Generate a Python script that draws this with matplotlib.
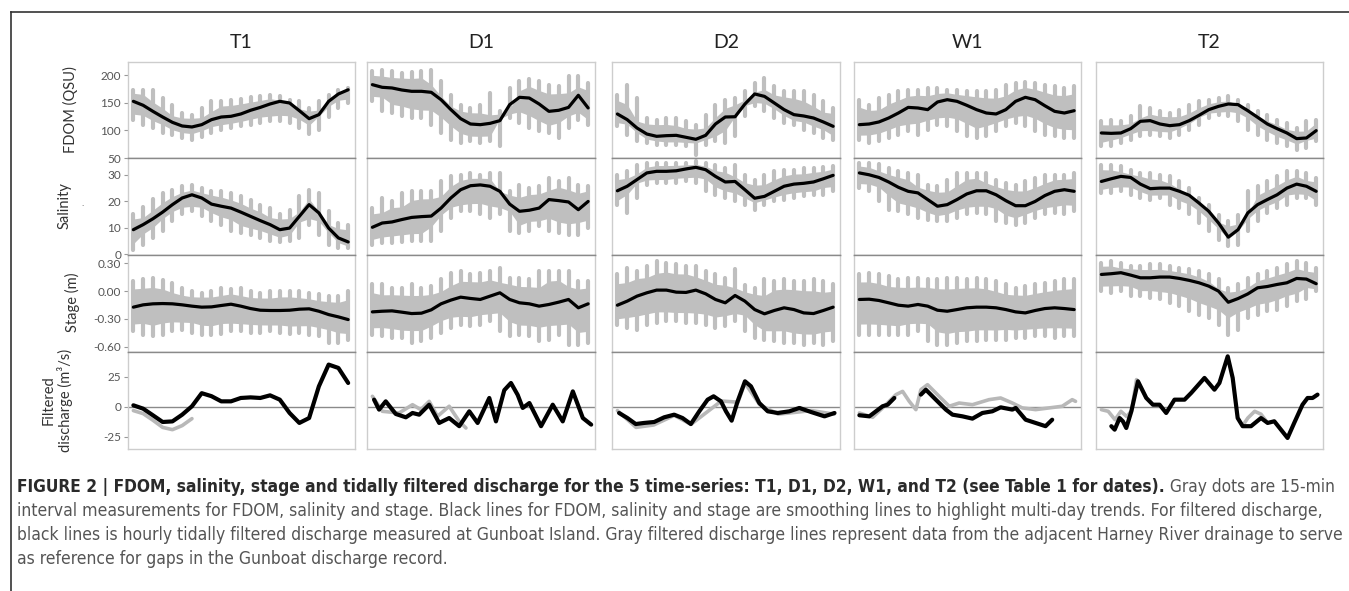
import numpy as np
import matplotlib
matplotlib.use("Agg")
import matplotlib.pyplot as plt
from matplotlib.lines import Line2D
from matplotlib import font_manager

nan = np.nan

# time index (tidal-day steps) shared by the smoothed lines and the 15-min bands
days = np.arange(23)
sites = ["T1", "D1", "D2", "W1", "T2"]

# ---------------- T1 ----------------
t1_fdom = [153, 145.8, 134.8, 124.5, 114.8, 108.2, 106.4, 110.6, 119.7, 124.5, 125.8, 130, 136.7, 142, 148.2, 153, 150, 136, 121.5, 128.8, 153, 166.4, 174]
t1_fdom_hi = [174, 174, 174, 159, 147, 132, 129, 141, 153, 154, 156, 158, 160, 162, 164, 162, 156, 153, 141, 153, 165, 174, 178]
t1_fdom_lo = [119.7, 110.6, 104.5, 95.5, 91, 86, 83, 89, 95, 101.5, 104.5, 107.6, 110.6, 113.6, 116.7, 116.7, 113.6, 104.5, 93.6, 101.5, 125, 140, 150]
t1_sal = [9.3, 11.2, 13.4, 15.9, 18.7, 21.2, 22.4, 21.2, 18.9, 18.1, 17.4, 15.9, 14.3, 12.7, 11.2, 9.3, 9.9, 14.3, 18.7, 15.6, 9.9, 6.2, 4.7]
t1_sal_hi = [15, 18, 21, 23, 24.3, 25.6, 26.2, 24.9, 24, 23.7, 23, 21.8, 20.6, 18.7, 17.4, 15, 16.8, 21.8, 24.3, 23, 16.2, 11.8, 11.2]
t1_sal_lo = [1.8, 3.7, 6.2, 8.7, 12.4, 15, 16.2, 14.3, 12.4, 11.2, 8.7, 8, 7.4, 6.2, 5.2, 4.7, 5.2, 6.2, 11.2, 7.4, 3.7, 2.4, 2.4]
t1_stage = [-0.173, -0.148, -0.137, -0.134, -0.137, -0.148, -0.162, -0.173, -0.17, -0.155, -0.141, -0.162, -0.188, -0.206, -0.209, -0.209, -0.206, -0.195, -0.191, -0.217, -0.253, -0.278, -0.307]
t1_stage_hi = [0.108, 0.126, 0.137, 0.116, 0.09, 0.036, 0, -0.018, 0, 0.036, 0.018, 0.036, 0, -0.018, 0, 0, 0, 0, -0.018, -0.036, -0.054, -0.054, 0]
t1_stage_lo = [-0.433, -0.469, -0.487, -0.469, -0.433, -0.415, -0.451, -0.469, -0.469, -0.462, -0.433, -0.433, -0.451, -0.451, -0.433, -0.451, -0.462, -0.451, -0.469, -0.487, -0.56, -0.56, -0.523]
t1_q_x = list(days)
t1_q = [1.4, -1.4, -6.9, -12.5, -12, -6.4, 0.6, 11.5, 9, 4.7, 4.7, 7.5, 8, 7.5, 9.7, 6.1, -5, -13.3, -9.2, 17.2, 35.3, 32.5, 20]
t1_qg_x = [0, 1, 2, 3, 4, 5, 6]
t1_qg = [-3, -5.5, -11, -17, -18.9, -15.5, -9.7]

# ---------------- D1 ----------------
d1_fdom = [183.3, 178.5, 177.3, 173.6, 171.2, 171.2, 169.4, 156, 138, 121.5, 111.8, 110.6, 113, 117.9, 147, 160.3, 159, 148.2, 134.8, 136.7, 142, 164, 141]
d1_fdom_hi = [207.6, 210.6, 207.6, 204.5, 206.4, 207.6, 210.6, 189.4, 165, 147, 141, 147, 168, 135, 177.3, 189.4, 194, 189.4, 183.3, 180, 198.5, 198.5, 186]
d1_fdom_lo = [153, 134.8, 131.8, 125.8, 122.7, 122.7, 110.6, 95.5, 83.3, 77.3, 80.3, 77.3, 80.3, 71.2, 122.7, 113.6, 104.5, 98.5, 95.5, 86.4, 104.5, 119.7, 110.6]
d1_sal = [10.2, 11.8, 12.2, 13.1, 13.9, 14.2, 14.4, 17.4, 21.2, 24.3, 25.8, 26.1, 25.6, 23.7, 18.9, 16.2, 16.6, 17.4, 20.6, 20.2, 19.7, 16.8, 19.9]
d1_sal_hi = [17.4, 21.2, 19.9, 23, 23.7, 23.7, 23.7, 27.4, 29.3, 30, 30.6, 29.7, 30.6, 30.6, 23.7, 26.2, 25, 25.6, 28.7, 27.4, 28.7, 26.2, 25.6]
d1_sal_lo = [3.7, 4.3, 4.3, 4.7, 4.9, 5.2, 4.9, 8.7, 13.7, 16.2, 16.2, 15, 13.7, 15, 8.7, 8, 8.7, 10.6, 8.7, 8, 7.4, 7.4, 9.9]
d1_stage = [-0.224, -0.217, -0.213, -0.227, -0.242, -0.238, -0.202, -0.137, -0.097, -0.065, -0.079, -0.09, -0.054, -0.018, -0.09, -0.126, -0.137, -0.162, -0.144, -0.119, -0.09, -0.18, -0.137]
d1_stage_hi = [0.072, 0.072, 0.036, 0.036, 0.072, 0.036, 0.054, 0.126, 0.198, 0.217, 0.18, 0.198, 0.217, 0.253, 0.144, 0.144, 0.126, 0.217, 0.217, 0.217, 0.217, 0.108, 0.108]
d1_stage_lo = [-0.469, -0.487, -0.505, -0.505, -0.56, -0.54, -0.505, -0.451, -0.397, -0.361, -0.379, -0.361, -0.325, -0.433, -0.487, -0.469, -0.487, -0.54, -0.523, -0.469, -0.578, -0.578, -0.56]
d1_q_x = [0.17, 0.68, 1.36, 2.38, 3.41, 4.09, 4.77, 5.79, 6.81, 7.83, 8.86, 9.88, 10.73, 11.92, 12.6, 13.45, 14.13, 14.82, 15.33, 16.01, 17.2, 18.39, 19.41, 20.44, 21.46, 22.31]
d1_q = [6.1, -2.2, 4.7, -5.8, -8.6, -5, -6.4, 1.9, -13.3, -9.2, -16, -3.6, -13.3, 7.5, -12, 14, 20, 10, -0.8, 3.3, -16, 1.9, -12, 13, -9.2, -14.7]
d1_qg_x = [0, 1.02, 2.72, 4.09, 4.94, 5.79, 6.64, 7.83, 8.86, 9.54]
d1_qg = [8.9, -3.6, -5, 1.9, -2.2, 4.7, -7.8, 0.6, -12, -17.5]

# ---------------- D2 ----------------
d2_fdom = [130, 119.7, 104.5, 93.6, 89.4, 90.6, 91.2, 87.6, 84, 91.2, 111.8, 124.5, 125, 148, 166.4, 162, 150, 137.9, 128.8, 126.4, 122.7, 115.5, 107.6]
d2_fdom_hi = [165, 183, 159, 122.7, 119.7, 122.7, 122.7, 116.7, 110.6, 128.8, 147, 156, 159, 171, 186, 195.5, 180, 171, 171, 171, 165, 153, 141]
d2_fdom_lo = [107.6, 92.4, 80.3, 77.3, 74.2, 74.2, 74.2, 71.2, 56, 74.2, 80.3, 77.3, 89.4, 125.8, 144, 134.8, 122.7, 113.6, 110.6, 101.5, 95.5, 86.4, 83.3]
d2_sal = [23.9, 25.6, 28.1, 30.6, 31.2, 31.2, 31.4, 32.1, 32.7, 31.8, 29.3, 27.2, 27.4, 24.3, 21.1, 21.8, 23.7, 25.6, 26.4, 26.7, 27.2, 28.4, 29.7]
d2_sal_hi = [29.9, 31.2, 33.7, 34.3, 34.3, 34.3, 34.3, 34.3, 34.9, 34.3, 33.7, 32.4, 33.7, 29.9, 28.1, 29.9, 31.2, 31.8, 31.8, 32.4, 32.4, 32.7, 33.1]
d2_sal_lo = [18.7, 15.6, 21.2, 26.2, 26.8, 26.8, 26.8, 27.4, 26.8, 23.7, 22.4, 21.2, 19.9, 18.7, 16.8, 18.7, 19.9, 20.6, 21.2, 21.8, 22.2, 22.4, 23.7]
d2_stage = [-0.152, -0.108, -0.054, -0.018, 0.011, 0.011, -0.011, -0.014, 0.011, -0.029, -0.09, -0.126, -0.047, -0.108, -0.199, -0.245, -0.209, -0.18, -0.199, -0.235, -0.242, -0.209, -0.173]
d2_stage_hi = [0.18, 0.253, 0.217, 0.271, 0.325, 0.307, 0.289, 0.271, 0.271, 0.217, 0.18, 0.144, 0.235, 0.07, 0.036, 0.126, 0.108, 0.126, 0.108, 0.108, 0.126, 0.108, 0.072]
d2_stage_lo = [-0.361, -0.397, -0.415, -0.361, -0.343, -0.325, -0.325, -0.343, -0.343, -0.361, -0.397, -0.379, -0.325, -0.433, -0.505, -0.523, -0.534, -0.56, -0.56, -0.578, -0.56, -0.578, -0.54]
d2_q_x = [0.17, 1.02, 1.87, 2.72, 3.75, 4.77, 5.79, 6.64, 7.49, 8.35, 9.2, 9.81, 10.56, 11.07, 11.65, 12.26, 13.01, 13.62, 14.47, 15.33, 16.35, 17.54, 18.56, 19.75, 21.12, 22.14]
d2_q = [-5, -9.2, -14.2, -13.3, -12.5, -8.6, -6.4, -9.2, -14.2, -3.6, 6.1, 8.9, 4.7, -3.6, -11.4, 4.7, 21.4, 17.2, 3.3, -3.6, -5, -3.6, -0.8, -4.2, -7.8, -5]
d2_qg_x = [0, 1.9, 3.7, 5.8, 7.5, 10.6, 12.3, 13.0, 14.5, 16.4, 19.8, 22.1]
d2_qg = [-3, -17, -15, -7, -14.5, 5, 4, 20, 2, -6, -3, -6]

# ---------------- W1 ----------------
w1_fdom = [110.6, 111.8, 115.5, 122.7, 131.8, 142, 140.9, 137.9, 151.8, 156, 153, 145.8, 137.9, 131.8, 130, 137.9, 153, 160.3, 156, 145, 134.8, 131.8, 136]
w1_fdom_hi = [156, 147, 159, 165, 171, 174, 174, 177, 177, 174, 174, 171, 171, 171, 174, 183, 186, 188, 186, 183, 180, 177, 180]
w1_fdom_lo = [83.3, 77.3, 80.3, 86.4, 92.4, 98.5, 92.4, 101.5, 110.6, 107.6, 98.5, 89.4, 86.4, 89.4, 98.5, 107.6, 113.6, 107.6, 98.5, 92.4, 89.4, 86.4, 86.4]
w1_sal = [30.6, 29.9, 28.9, 27.2, 25.2, 23.7, 23.1, 20.6, 18.1, 18.7, 20.6, 22.7, 23.9, 23.9, 22.4, 20.2, 18.3, 18.3, 19.9, 22.1, 23.7, 24.3, 23.7]
w1_sal_hi = [34.3, 34.3, 33.9, 32.4, 31.2, 30.6, 29.9, 26.2, 25.6, 28.1, 30.6, 30.6, 30.6, 30.6, 28.1, 26.8, 26.2, 27.4, 28.7, 29.9, 29.9, 29.9, 30.6]
w1_sal_lo = [24.9, 23.7, 19.9, 16.8, 16.2, 15, 13.7, 13.1, 12.4, 12.4, 13.7, 15, 15.6, 15, 12.4, 11.8, 11.2, 11.8, 13.7, 15, 15.6, 15, 16.2]
w1_stage = [-0.09, -0.087, -0.101, -0.126, -0.152, -0.162, -0.144, -0.162, -0.206, -0.217, -0.199, -0.18, -0.173, -0.173, -0.18, -0.199, -0.224, -0.235, -0.209, -0.188, -0.18, -0.188, -0.199]
w1_stage_hi = [0.18, 0.2, 0.18, 0.16, 0.126, 0.144, 0.144, 0.126, 0.126, 0.144, 0.144, 0.126, 0.144, 0.126, 0.108, 0.072, 0.036, 0.054, 0.072, 0.09, 0.108, 0.126, 0.126]
w1_stage_lo = [-0.469, -0.469, -0.469, -0.469, -0.469, -0.469, -0.433, -0.54, -0.578, -0.578, -0.56, -0.54, -0.54, -0.523, -0.523, -0.523, -0.505, -0.505, -0.487, -0.487, -0.505, -0.487, -0.487]
w1_q_x = [0, 1.02, 1.7, 2.38, 2.9, 3.58, 5.0, 6.3, 6.81, 7.83, 8.86, 9.54, 10.56, 11.58, 12.6, 13.62, 14.47, 15.67, 16.01, 17.03, 18.05, 19.07, 19.75]
w1_q = [-6.9, -7.8, -3.6, 0.6, 1.9, 7.5, nan, 10.3, 14.4, 6.1, -2.2, -6.4, -7.8, -9.7, -5, -3.6, -0.3, -2.2, -0.8, -10.6, -13.3, -16, -10.6]
w1_qg_x = [0, 1.36, 2.38, 3.75, 4.43, 5.11, 5.79, 6.3, 6.98, 8.17, 9.2, 10.22, 11.58, 13.28, 14.47, 15.67, 16.69, 18.05, 19.41, 20.78, 21.8, 22.14]
w1_qg = [-5, -8.6, -0.8, 10.3, 13, 4.7, -2.2, 14.4, 18.6, 8.9, 0.6, 3.3, 1.9, 6.1, 7.5, 3.3, -0.8, -2.2, -0.8, 0.6, 6.1, 4.7]

# ---------------- T2 ----------------
t2_fdom = [95.5, 94.8, 95.5, 103.3, 116.7, 117.9, 111.8, 108.8, 110.6, 117.9, 127.6, 137.9, 143.9, 148.2, 147, 136, 124, 111.8, 103.3, 95.5, 85.2, 86.4, 99.7]
t2_fdom_hi = [116.7, 119.7, 116.7, 125.8, 144, 141, 134.8, 131.8, 137.9, 147, 153, 156, 159, 162, 156, 147, 134.8, 128.8, 119.7, 113.6, 104.5, 116.7, 119.7]
t2_fdom_lo = [71.2, 71.2, 77.3, 83.3, 89.4, 92.4, 89.4, 86.4, 92.4, 101.5, 110.6, 122.7, 128.8, 125.8, 116.7, 101.5, 92.4, 83.3, 77.3, 71.2, 65.2, 68.2, 80.3]
t2_sal = [27.4, 28.4, 29.3, 28.9, 26.4, 24.7, 24.9, 24.9, 23.7, 22.2, 19.3, 16.2, 11.8, 6.5, 9.3, 15.6, 18.7, 20.6, 22.4, 24.9, 26.4, 25.6, 23.7]
t2_sal_hi = [33.7, 33.7, 33.1, 31.8, 30.6, 30.6, 29.9, 29.3, 27.4, 24.9, 21.2, 18.7, 14.9, 12.4, 14.9, 23.7, 25.6, 27.4, 29.3, 31.2, 31.2, 30.6, 28.7]
t2_sal_lo = [23.1, 23.1, 23.7, 22.4, 21.2, 20.6, 21.2, 18.7, 17.4, 15, 11.8, 8.7, 5.6, 3.1, 3.7, 8.7, 12.4, 15.6, 17.4, 18.7, 21.2, 21.2, 18.7]
t2_stage = [0.18, 0.188, 0.199, 0.173, 0.144, 0.144, 0.152, 0.152, 0.137, 0.116, 0.09, 0.054, 0.0, -0.12, -0.08, -0.03, 0.036, 0.05, 0.072, 0.09, 0.137, 0.13, 0.08]
t2_stage_hi = [0.307, 0.325, 0.307, 0.271, 0.271, 0.289, 0.289, 0.271, 0.253, 0.235, 0.217, 0.18, 0.126, 0.036, 0.072, 0.144, 0.18, 0.217, 0.253, 0.289, 0.325, 0.307, 0.253]
t2_stage_lo = [0.0, -0.018, 0.0, -0.054, -0.054, -0.072, -0.09, -0.126, -0.162, -0.217, -0.253, -0.289, -0.361, -0.469, -0.415, -0.289, -0.253, -0.217, -0.199, -0.162, -0.108, -0.09, 0.0]
t2_q_x = [1.02, 1.36, 1.87, 2.21, 2.55, 3.07, 3.75, 4.6, 5.28, 5.96, 6.64, 7.49, 8.52, 9.2, 10.56, 11.58, 12.09, 12.94, 13.45, 13.96, 14.47, 15.33, 16.35, 17.03, 17.71, 19.07, 19.75, 20.6, 21.12, 21.63, 22.14]
t2_q = [-16, -18.9, -9.2, -12, -17.5, -3.6, 21.4, 7.5, 1.9, 1.9, -5, 6.1, 6.1, 11.7, 24.2, 14.4, 20, 42.2, 24.2, -9.2, -16, -16, -9.2, -13.3, -11.9, -25.8, -13.3, 1.9, 7.5, 7.5, 10.3]
t2_qg_x = [0, 0.7, 1.4, 2.0, 2.6, 3.1, 3.6, 4.6, 9.0, 14.6, 15.0, 15.7, 16.35, 17.0]
t2_qg = [-2.2, -3.6, -10.6, -3.6, -8, -3, 22.8, 7.5, nan, -14, -9.2, -3.6, -6, -13]

fdom = [(t1_fdom, t1_fdom_hi, t1_fdom_lo), (d1_fdom, d1_fdom_hi, d1_fdom_lo), (d2_fdom, d2_fdom_hi, d2_fdom_lo),
        (w1_fdom, w1_fdom_hi, w1_fdom_lo), (t2_fdom, t2_fdom_hi, t2_fdom_lo)]
sal = [(t1_sal, t1_sal_hi, t1_sal_lo), (d1_sal, d1_sal_hi, d1_sal_lo), (d2_sal, d2_sal_hi, d2_sal_lo),
       (w1_sal, w1_sal_hi, w1_sal_lo), (t2_sal, t2_sal_hi, t2_sal_lo)]
stage = [(t1_stage, t1_stage_hi, t1_stage_lo), (d1_stage, d1_stage_hi, d1_stage_lo), (d2_stage, d2_stage_hi, d2_stage_lo),
         (w1_stage, w1_stage_hi, w1_stage_lo), (t2_stage, t2_stage_hi, t2_stage_lo)]
disch = [(t1_q_x, t1_q, t1_qg_x, t1_qg), (d1_q_x, d1_q, d1_qg_x, d1_qg), (d2_q_x, d2_q, d2_qg_x, d2_qg),
         (w1_q_x, w1_q, w1_qg_x, w1_qg), (t2_q_x, t2_q, t2_qg_x, t2_qg)]

plt.rcParams['font.family'] = ['Lato', 'DejaVu Sans']

W, H = 1349, 591
fig = plt.figure(figsize=(W / 100, H / 100), dpi=100)

DOT = '#bfbfbf'
LIGHT = '#cdcdcd'
DARK = '#8a8a8a'

col_px = [(128, 355), (367, 595), (612, 840), (854, 1081), (1096, 1323)]
row_px = [(62, 158), (158, 255), (255, 352), (352, 449)]
ylims = [(50, 224.5), (-0.2, 36.2), (-0.657, 0.39), (-35, 45.8)]
yticks = [[50, 100, 150, 200], [0, 10, 20, 30], [-0.6, -0.3, 0.0, 0.3], [-25, 0, 25]]
ytlabels = [['50', '100', '150', '200'], ['0', '10', '20', '30'], ['-0.60', '-0.30', '0.00', '0.30'], ['-25', '0', '25']]


def band(ax, line, hi, lo):
    # 15-min dots: a dense core around the trend plus one streak per tidal cycle
    line = np.array(line, float)
    hi = np.array(hi, float)
    lo = np.array(lo, float)
    nb_hi = hi.copy()
    nb_lo = lo.copy()
    nb_hi[1:-1] = np.minimum.reduce([hi[:-2], hi[1:-1], hi[2:]])
    nb_lo[1:-1] = np.maximum.reduce([lo[:-2], lo[1:-1], lo[2:]])
    core_hi = line + 0.7 * (nb_hi - line)
    core_lo = line + 0.7 * (nb_lo - line)
    ax.fill_between(days, core_lo, core_hi, color=DOT, lw=0, zorder=2)
    vl = ax.vlines(days, lo, hi, color=DOT, lw=3.0, zorder=2)
    vl.set_capstyle('round')


for c, site in enumerate(sites):
    x0, x1 = col_px[c]
    for r in range(4):
        y0, y1 = row_px[r]
        ax = fig.add_axes([x0 / W, 1 - y1 / H, (x1 - x0) / W, (y1 - y0) / H])
        ax.set_xlim(-0.55, 22.7)
        ax.set_ylim(*ylims[r])
        ax.set_xticks([])
        for s in ax.spines.values():
            s.set_color(LIGHT)
            s.set_linewidth(1.0)
        if r > 0:
            ax.spines['top'].set_color(DARK)
        if r < 3:
            ax.spines['bottom'].set_color(DARK)
        if c == 0:
            ax.set_yticks(yticks[r])
            ax.set_yticklabels(ytlabels[r])
            ax.tick_params(axis='y', length=3, width=0.8, color='#999999', labelcolor='#555555',
                           labelsize=8.5, pad=2)
        else:
            ax.set_yticks([])

        if r < 3:
            line, hi, lo = [fdom, sal, stage][r][c]
            band(ax, line, hi, lo)
            ax.plot(days, line, color='black', lw=2.3, solid_joinstyle='round',
                    solid_capstyle='round', zorder=3)
        else:
            qx, q, gx, g = disch[c]
            ax.axhline(0, color=DARK, lw=1.0, zorder=1)
            ax.plot(gx, g, color='#b8b8b8', lw=2.6, solid_joinstyle='round',
                    solid_capstyle='round', zorder=2)
            ax.plot(qx, q, color='black', lw=3.0, solid_joinstyle='round',
                    solid_capstyle='round', zorder=3)

    fig.text((x0 + x1) / 2 / W, 1 - 43 / H, site, ha='center', va='center',
             fontsize=14, color='#222222')

# y axis labels
lab_kw = dict(rotation=90, ha='center', va='center', fontsize=10.5, color='#333333')
fig.text(70 / W, 1 - 110 / H, 'FDOM (QSU)', **lab_kw)
fig.text(65 / W, 1 - 206 / H, 'Salinity', **lab_kw)
fig.text(83 / W, 1 - 203 / H, '.', ha='center', va='center', fontsize=7, color='#555555')
fig.text(72 / W, 1 - 302 / H, 'Stage (m)', **lab_kw)
fig.text(57 / W, 1 - 400 / H, 'Filtered\ndischarge (m\u00b3/s)', linespacing=1.1, **lab_kw)

# outer frame lines
fig.add_artist(Line2D([11 / W, 1.0], [1 - 12 / H, 1 - 12 / H], color='#333333', lw=1.2,
                      transform=fig.transFigure))
fig.add_artist(Line2D([11 / W, 11 / W], [0, 1 - 12 / H], color='#333333', lw=1.2,
                      transform=fig.transFigure))

# caption: pick the narrowest sans available
cap_kw = {'family': 'Liberation Sans'}
for f in font_manager.fontManager.ttflist:
    if f.name == 'Liberation Sans Narrow':
        cap_kw = {'family': 'Liberation Sans Narrow'}
        break
else:
    for f in font_manager.fontManager.ttflist:
        if f.name == 'DejaVu Sans' and 'Condensed' in f.fname:
            cap_kw = {'family': 'DejaVu Sans', 'stretch': 'condensed'}
            break

BOLD_C = '#2a2a2a'
REG_C = '#555555'
cap_lines = [
    [("FIGURE 2 | FDOM, salinity, stage and tidally filtered discharge for the 5 time-series: T1, D1, D2, W1, and T2 (see Table 1 for dates).", 'bold', BOLD_C),
     (" Gray dots are 15-min", 'normal', REG_C)],
    [("interval measurements for FDOM, salinity and stage. Black lines for FDOM, salinity and stage are smoothing lines to highlight multi-day trends. For filtered discharge,", 'normal', REG_C)],
    [("black lines is hourly tidally filtered discharge measured at Gunboat Island. Gray filtered discharge lines represent data from the adjacent Harney River drainage to serve", 'normal', REG_C)],
    [("as reference for gaps in the Gunboat discharge record.", 'normal', REG_C)],
]
cap_y = [487, 511, 535, 559]
CAP_L, CAP_R = 17, 1333

renderer = fig.canvas.get_renderer()


def draw_line(parts, y, size):
    x = CAP_L
    arts = []
    for text, weight, color in parts:
        t = fig.text(x / W, 1 - y / H, text, fontsize=size, fontweight=weight,
                     color=color, ha='left', va='center', **cap_kw)
        x = t.get_window_extent(renderer).x1
        arts.append(t)
    return arts, x


# the first three lines are justified to the same right edge
sizes = []
for parts, y in zip(cap_lines[:3], cap_y):
    size = 10.0
    for _ in range(3):
        arts, xr = draw_line(parts, y, size)
        for a in arts:
            a.remove()
        size *= (CAP_R - CAP_L) / (xr - CAP_L)
    sizes.append(size)
sizes.append(sizes[2])
for parts, y, size in zip(cap_lines, cap_y, sizes):
    draw_line(parts, y, size)

fig.savefig('out.png', dpi=100)
